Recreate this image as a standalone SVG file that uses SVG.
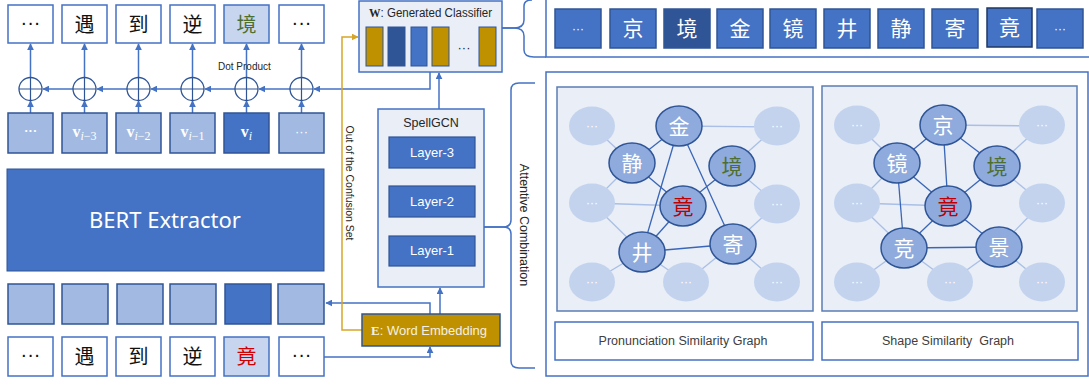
<svg xmlns="http://www.w3.org/2000/svg" width="1089" height="385" viewBox="0 0 1089 385">
<defs>
<marker id="ab" viewBox="0 0 10 10" refX="9" refY="5" markerWidth="7" markerHeight="7" orient="auto" markerUnits="userSpaceOnUse"><path d="M0,0 L10,5 L0,10 z" fill="#4472C4"/></marker>
<marker id="ag" viewBox="0 0 10 10" refX="9" refY="5" markerWidth="7" markerHeight="7" orient="auto" markerUnits="userSpaceOnUse"><path d="M0,0 L10,5 L0,10 z" fill="#D6A62A"/></marker>
</defs>
<style>
text{font-family:"Liberation Sans","Noto Sans CJK SC",sans-serif}
.cjk{font-family:"Noto Sans CJK SC",sans-serif}
.ob{fill:#fff;stroke:#4472C4;stroke-width:1.5}
.lb{fill:#A2B9E1;stroke:#2F5597;stroke-width:1.5}
.db{fill:#4472C4;stroke:#2F5597;stroke-width:1.5}
.hb{fill:#C7D5EE;stroke:#4472C4;stroke-width:1.5}
.ln{stroke:#4472C4;stroke-width:1.5;fill:none}
.cir{fill:#fff;stroke:#2F5597;stroke-width:1.3}
.pl{stroke:#2F5597;stroke-width:1.2}
.tk{font-size:20px;fill:#111;text-anchor:middle}
.tw{fill:#fff;text-anchor:middle}
.cb{fill:#4472C4;stroke:#2F5597;stroke-width:1.2}
.panel{fill:#E9EEF7;stroke:#5B7DB5;stroke-width:1.5}
.de{stroke:#3A66B8;stroke-width:1.3}
.le{stroke:#A9BFE6;stroke-width:1.3}
.mn{fill:#8FAADC;stroke:#2F5597;stroke-width:1.5}
.fn{fill:#C3D3EE}
.nt{font-size:21px;fill:#fff;text-anchor:middle;font-family:"Noto Sans CJK SC",sans-serif}
.ft{font-size:12px;fill:#fff;text-anchor:middle}
</style>

<g id="connectors">
<path class="ln" d="M430,72 V89 H314" marker-end="url(#ab)"/>
<path class="ln" d="M290,89 H259" marker-end="url(#ab)"/>
<path class="ln" d="M235,89 H205" marker-end="url(#ab)"/>
<path class="ln" d="M181,89 H151" marker-end="url(#ab)"/>
<path class="ln" d="M127,89 H97" marker-end="url(#ab)"/>
<path class="ln" d="M73,89 H43" marker-end="url(#ab)"/>
<path class="ln" d="M30.5,113 V101" marker-end="url(#ab)"/>
<path class="ln" d="M84.5,113 V101" marker-end="url(#ab)"/>
<path class="ln" d="M138.5,113 V101" marker-end="url(#ab)"/>
<path class="ln" d="M192.5,113 V101" marker-end="url(#ab)"/>
<path class="ln" d="M246.5,113 V101" marker-end="url(#ab)"/>
<path class="ln" d="M301.5,113 V101" marker-end="url(#ab)"/>
<path class="ln" d="M30.5,77.5 V44" marker-end="url(#ab)"/>
<path class="ln" d="M84.5,77.5 V44" marker-end="url(#ab)"/>
<path class="ln" d="M138.5,77.5 V44" marker-end="url(#ab)"/>
<path class="ln" d="M192.5,77.5 V44" marker-end="url(#ab)"/>
<path class="ln" d="M246.5,77.5 V44" marker-end="url(#ab)"/>
<path class="ln" d="M301.5,77.5 V44" marker-end="url(#ab)"/>
<path class="ln" d="M439,109 V73" marker-end="url(#ab)"/>
<path class="ln" d="M440,314 V288" marker-end="url(#ab)"/>
<path class="ln" d="M430,314 V303 H326" marker-end="url(#ab)"/>
<path class="ln" d="M324,357 H430 V347" marker-end="url(#ab)"/>
<path d="M362,330 H342 V37 H358" fill="none" stroke="#D6A62A" stroke-width="1.5" marker-end="url(#ag)"/>
<path class="ln" d="M502,28 H514 Q524,28 524,20 V6 Q524,0 532,0" />
<path class="ln" d="M502,28 H514 Q524,28 524,36 V50 Q524,57 534,57 H546" />
<path class="ln" d="M484,227 H503 Q511,227 511,220 V90 Q511,83 519,83 H535"/>
<path class="ln" d="M484,227 H503 Q511,227 511,234 V361 Q511,368 519,368 H535"/>
</g>

<g id="output-row">
<rect class="ob" x="8" y="5" width="45" height="38"/><text class="tk" x="30.5" y="29" font-size="14">···</text>
<rect class="ob" x="62" y="5" width="45" height="38"/><text class="tk cjk" x="84.5" y="32">遇</text>
<rect class="ob" x="116" y="5" width="45" height="38"/><text class="tk cjk" x="138.5" y="32">到</text>
<rect class="ob" x="170" y="5" width="45" height="38"/><text class="tk cjk" x="192.5" y="32">逆</text>
<rect class="hb" x="224" y="5" width="45" height="38"/><text class="tk cjk" x="246.5" y="32" style="fill:#4E6E2E">境</text>
<rect class="ob" x="279" y="5" width="45" height="38"/><text class="tk" x="301.5" y="29" font-size="14">···</text>
</g>

<g id="dot-product">
<text x="218" y="70" font-size="10" fill="#262626">Dot Product</text>
<g>
<circle class="cir" cx="30.5" cy="89" r="11.5"/><path class="pl" d="M19,89 H42 M30.5,77.5 V100.5"/>
<circle class="cir" cx="84.5" cy="89" r="11.5"/><path class="pl" d="M73,89 H96 M84.5,77.5 V100.5"/>
<circle class="cir" cx="138.5" cy="89" r="11.5"/><path class="pl" d="M127,89 H150 M138.5,77.5 V100.5"/>
<circle class="cir" cx="192.5" cy="89" r="11.5"/><path class="pl" d="M181,89 H204 M192.5,77.5 V100.5"/>
<circle class="cir" cx="246.5" cy="89" r="11.5"/><path class="pl" d="M235,89 H258 M246.5,77.5 V100.5"/>
<circle class="cir" cx="301.5" cy="89" r="11.5"/><path class="pl" d="M290,89 H313 M301.5,77.5 V100.5"/>
</g>
</g>

<g id="v-row">
<rect class="lb" x="8" y="113" width="45" height="40"/><text class="tw" x="30.5" y="135" font-size="13" font-weight="bold" style="font-family:'Liberation Serif'">···</text>
<rect class="lb" x="62" y="113" width="45" height="40"/><text class="tw" x="84.5" y="137" style="font-family:'Liberation Serif'"><tspan font-size="16" font-weight="bold">v</tspan><tspan font-size="12" font-style="italic" dy="3">i</tspan><tspan font-size="12">−3</tspan></text>
<rect class="lb" x="116" y="113" width="45" height="40"/><text class="tw" x="138.5" y="137" style="font-family:'Liberation Serif'"><tspan font-size="16" font-weight="bold">v</tspan><tspan font-size="12" font-style="italic" dy="3">i</tspan><tspan font-size="12">−2</tspan></text>
<rect class="lb" x="170" y="113" width="45" height="40"/><text class="tw" x="192.5" y="137" style="font-family:'Liberation Serif'"><tspan font-size="16" font-weight="bold">v</tspan><tspan font-size="12" font-style="italic" dy="3">i</tspan><tspan font-size="12">−1</tspan></text>
<rect class="db" x="224" y="113" width="45" height="40"/><text class="tw" x="246.5" y="137" style="font-family:'Liberation Serif'"><tspan font-size="16" font-weight="bold">v</tspan><tspan font-size="12" font-style="italic" dy="3">i</tspan></text>
<rect class="lb" x="279" y="113" width="45" height="40"/><text class="tw" x="301.5" y="136" font-size="13">···</text>
</g>

<g id="bert">
<rect x="7" y="169" width="317" height="102" fill="#4472C4" stroke="#2F5597" stroke-width="1"/>
<text x="165" y="228" font-size="22" fill="#fff" text-anchor="middle" style="font-family:'Noto Sans',sans-serif">BERT Extractor</text>
</g>

<g id="embedding-row">
<rect class="lb" x="8" y="284" width="46" height="40"/>
<rect class="lb" x="62" y="284" width="46" height="40"/>
<rect class="lb" x="117" y="284" width="46" height="40"/>
<rect class="lb" x="170" y="284" width="46" height="40"/>
<rect class="db" x="225" y="284" width="46" height="40"/>
<rect class="lb" x="278" y="284" width="46" height="40"/>
</g>

<g id="input-row">
<rect class="ob" x="8" y="337" width="45" height="39"/><text class="tk" x="30.5" y="361" font-size="14">···</text>
<rect class="ob" x="62" y="337" width="45" height="39"/><text class="tk cjk" x="84.5" y="364">遇</text>
<rect class="ob" x="116" y="337" width="45" height="39"/><text class="tk cjk" x="138.5" y="364">到</text>
<rect class="ob" x="170" y="337" width="45" height="39"/><text class="tk cjk" x="192.5" y="364">逆</text>
<rect class="hb" x="224" y="337" width="45" height="39"/><text class="tk cjk" x="246.5" y="364" style="fill:#D00000">竟</text>
<rect class="ob" x="279" y="337" width="45" height="39"/><text class="tk" x="301.5" y="361" font-size="14">···</text>
</g>

<g id="classifier">
<rect x="359" y="1" width="143" height="71" fill="#E9EEF7" stroke="#4472C4" stroke-width="1.5"/>
<text x="369" y="17" font-size="12" fill="#262626" textLength="123" lengthAdjust="spacingAndGlyphs"><tspan font-weight="bold" style="font-family:'Liberation Serif'">W</tspan>: Generated Classifier</text>
<rect x="366" y="27" width="17" height="39" fill="#BF9000" stroke="#2F5597" stroke-width="1"/>
<rect x="388" y="27" width="17" height="39" fill="#2F5597" stroke="#2F5597" stroke-width="1"/>
<rect x="411" y="27" width="16" height="39" fill="#4472C4" stroke="#2F5597" stroke-width="1"/>
<rect x="432" y="27" width="17" height="39" fill="#BF9000" stroke="#2F5597" stroke-width="1"/>
<text x="464" y="52" font-size="13" fill="#262626" text-anchor="middle">···</text>
<rect x="479" y="27" width="17" height="39" fill="#BF9000" stroke="#2F5597" stroke-width="1"/>
</g>

<g id="confusion-label">
<text transform="translate(346,183) rotate(90)" font-size="10.5" fill="#262626" text-anchor="middle">Out of the Confusion Set</text>
</g>

<g id="spellgcn">
<rect x="378" y="109" width="106" height="178" fill="#E9EEF7" stroke="#4472C4" stroke-width="1.5"/>
<text x="431" y="127" font-size="12.5" fill="#262626" text-anchor="middle">SpellGCN</text>
<rect class="cb" x="389" y="137" width="86" height="31"/><text class="tw" x="432" y="157" font-size="13">Layer-3</text>
<rect class="cb" x="389" y="186" width="86" height="31"/><text class="tw" x="432" y="206" font-size="13">Layer-2</text>
<rect class="cb" x="389" y="236" width="86" height="30"/><text class="tw" x="432" y="255" font-size="13">Layer-1</text>
</g>

<g id="word-embedding">
<rect x="362" y="314" width="138" height="32" fill="#BF9000" stroke="#2F5597" stroke-width="1.5"/>
<text x="371" y="335" font-size="13.5" fill="#F4F0E4" textLength="116" lengthAdjust="spacingAndGlyphs"><tspan font-weight="bold" style="font-family:'Liberation Serif'">E</tspan>: Word Embedding</text>
</g>

<g id="attentive-label">
<text transform="translate(520,225) rotate(90)" font-size="12.5" fill="#262626" text-anchor="middle">Attentive Combination</text>
</g>

<g id="candidates">
<rect x="546" y="-5" width="560" height="62" fill="#fff" stroke="#4472C4" stroke-width="1.5"/>
<rect class="db" x="555" y="9" width="46" height="39"/><text class="ft" x="578" y="33">···</text>
<rect class="db" x="610" y="9" width="46" height="39"/><text class="nt" x="633" y="36" font-size="20">京</text>
<rect x="664" y="9" width="46" height="39" fill="#2F5597" stroke="#2F5597" stroke-width="1.5"/><text class="nt" x="687" y="36" font-size="20">境</text>
<rect class="db" x="717" y="9" width="46" height="39"/><text class="nt" x="740" y="36" font-size="20">金</text>
<rect class="db" x="770" y="9" width="46" height="39"/><text class="nt" x="793" y="36" font-size="20">镜</text>
<rect class="db" x="824" y="9" width="46" height="39"/><text class="nt" x="847" y="36" font-size="20">井</text>
<rect class="db" x="878" y="9" width="46" height="39"/><text class="nt" x="901" y="36" font-size="20">静</text>
<rect class="db" x="932" y="9" width="46" height="39"/><text class="nt" x="955" y="36" font-size="20">寄</text>
<rect x="987" y="8" width="45" height="39" fill="#4472C4" stroke="#203864" stroke-width="1.5"/><text class="nt" x="1009.5" y="35" font-size="20">竟</text>
<rect class="db" x="1037" y="9" width="46" height="39"/><text class="ft" x="1060" y="33">···</text>
</g>

<g id="graphs-frame">
<rect x="546" y="72" width="542" height="304" fill="#fff" stroke="#4472C4" stroke-width="1.5"/>
</g>

<g id="pronunciation-graph">
<rect class="panel" x="557" y="87" width="256" height="224"/>
<g>
<line class="le" x1="592" y1="126" x2="632" y2="163"/>
<line class="le" x1="592" y1="203" x2="632" y2="163"/>
<line class="le" x1="592" y1="203" x2="683" y2="206"/>
<line class="le" x1="592" y1="203" x2="642" y2="252"/>
<line class="le" x1="592" y1="282" x2="642" y2="252"/>
<line class="le" x1="686" y1="282" x2="642" y2="252"/>
<line class="le" x1="686" y1="282" x2="733" y2="244"/>
<line class="le" x1="777" y1="204" x2="733" y2="244"/>
<line class="le" x1="777" y1="282" x2="733" y2="244"/>
<line class="le" x1="777" y1="126" x2="732" y2="166"/>
<line class="le" x1="777" y1="204" x2="732" y2="166"/>
<line class="le" x1="679" y1="126" x2="777" y2="127"/>
<line class="de" x1="679" y1="126" x2="632" y2="163"/>
<line class="de" x1="679" y1="126" x2="642" y2="252"/>
<line class="de" x1="679" y1="126" x2="733" y2="244"/>
<line class="de" x1="632" y1="163" x2="683" y2="206"/>
<line class="de" x1="732" y1="166" x2="683" y2="206"/>
<line class="de" x1="683" y1="206" x2="642" y2="252"/>
<line class="de" x1="642" y1="252" x2="733" y2="244"/>
</g>
<g>
<ellipse class="fn" cx="592" cy="126" rx="23" ry="19.5"/><text class="ft" x="592" y="130">···</text>
<ellipse class="fn" cx="777" cy="126" rx="23" ry="19.5"/><text class="ft" x="777" y="130">···</text>
<ellipse class="fn" cx="592" cy="203" rx="23" ry="19.5"/><text class="ft" x="592" y="207">···</text>
<ellipse class="fn" cx="777" cy="204" rx="23" ry="19.5"/><text class="ft" x="777" y="208">···</text>
<ellipse class="fn" cx="592" cy="282" rx="23" ry="19.5"/><text class="ft" x="592" y="286">···</text>
<ellipse class="fn" cx="686" cy="282" rx="23" ry="19.5"/><text class="ft" x="686" y="286">···</text>
<ellipse class="fn" cx="777" cy="282" rx="23" ry="19.5"/><text class="ft" x="777" y="286">···</text>
</g>
<g>
<ellipse class="mn" cx="679" cy="126" rx="23" ry="20"/><text class="nt" x="679" y="134">金</text>
<ellipse class="mn" cx="632" cy="163" rx="23" ry="20"/><text class="nt" x="632" y="171">静</text>
<ellipse class="mn" cx="732" cy="166" rx="23" ry="20"/><text class="nt" x="732" y="174" style="fill:#4E6E2E">境</text>
<ellipse class="mn" cx="683" cy="206" rx="23" ry="20"/><text class="nt" x="683" y="214" style="fill:#C00000">竟</text>
<ellipse class="mn" cx="642" cy="252" rx="23" ry="20"/><text class="nt" x="642" y="260">井</text>
<ellipse class="mn" cx="733" cy="244" rx="23" ry="20"/><text class="nt" x="733" y="252">寄</text>
</g>
<rect x="555" y="322" width="258" height="38" fill="#fff" stroke="#4472C4" stroke-width="1.5"/>
<text x="683" y="345" font-size="12.5" fill="#404040" text-anchor="middle">Pronunciation Similarity Graph</text>
</g>

<g id="shape-graph">
<rect class="panel" x="822" y="86" width="255" height="225"/>
<g>
<line class="le" x1="857" y1="125" x2="897" y2="163"/>
<line class="le" x1="857" y1="203" x2="897" y2="163"/>
<line class="le" x1="857" y1="203" x2="948" y2="206"/>
<line class="le" x1="857" y1="203" x2="904" y2="248"/>
<line class="le" x1="857" y1="282" x2="904" y2="248"/>
<line class="le" x1="950" y1="282" x2="904" y2="248"/>
<line class="le" x1="950" y1="282" x2="999" y2="247"/>
<line class="le" x1="1042" y1="203" x2="999" y2="247"/>
<line class="le" x1="1042" y1="282" x2="999" y2="247"/>
<line class="le" x1="1042" y1="125" x2="997" y2="166"/>
<line class="le" x1="1042" y1="203" x2="997" y2="166"/>
<line class="le" x1="943" y1="125" x2="1042" y2="126"/>
<line class="de" x1="943" y1="125" x2="897" y2="163"/>
<line class="de" x1="943" y1="125" x2="997" y2="166"/>
<line class="de" x1="943" y1="125" x2="948" y2="206"/>
<line class="de" x1="897" y1="163" x2="948" y2="206"/>
<line class="de" x1="897" y1="163" x2="904" y2="248"/>
<line class="de" x1="997" y1="166" x2="948" y2="206"/>
<line class="de" x1="948" y1="206" x2="904" y2="248"/>
<line class="de" x1="948" y1="206" x2="999" y2="247"/>
<line class="de" x1="904" y1="248" x2="999" y2="247"/>
</g>
<g>
<ellipse class="fn" cx="857" cy="125" rx="23" ry="19.5"/><text class="ft" x="857" y="129">···</text>
<ellipse class="fn" cx="1042" cy="125" rx="23" ry="19.5"/><text class="ft" x="1042" y="129">···</text>
<ellipse class="fn" cx="857" cy="203" rx="23" ry="19.5"/><text class="ft" x="857" y="207">···</text>
<ellipse class="fn" cx="1042" cy="203" rx="23" ry="19.5"/><text class="ft" x="1042" y="207">···</text>
<ellipse class="fn" cx="857" cy="282" rx="23" ry="19.5"/><text class="ft" x="857" y="286">···</text>
<ellipse class="fn" cx="950" cy="282" rx="23" ry="19.5"/><text class="ft" x="950" y="286">···</text>
<ellipse class="fn" cx="1042" cy="282" rx="23" ry="19.5"/><text class="ft" x="1042" y="286">···</text>
</g>
<g>
<ellipse class="mn" cx="943" cy="125" rx="23" ry="20"/><text class="nt" x="943" y="133">京</text>
<ellipse class="mn" cx="897" cy="163" rx="23" ry="20"/><text class="nt" x="897" y="171">镜</text>
<ellipse class="mn" cx="997" cy="166" rx="23" ry="20"/><text class="nt" x="997" y="174" style="fill:#4E6E2E">境</text>
<ellipse class="mn" cx="948" cy="206" rx="23" ry="20"/><text class="nt" x="948" y="214" style="fill:#C00000">竟</text>
<ellipse class="mn" cx="904" cy="248" rx="23" ry="20"/><text class="nt" x="904" y="256">竞</text>
<ellipse class="mn" cx="999" cy="247" rx="23" ry="20"/><text class="nt" x="999" y="255">景</text>
</g>
<rect x="822" y="322" width="256" height="38" fill="#fff" stroke="#4472C4" stroke-width="1.5"/>
<text x="948" y="345" font-size="12.5" fill="#404040" text-anchor="middle" xml:space="preserve">Shape Similarity  Graph</text>
</g>
</svg>
